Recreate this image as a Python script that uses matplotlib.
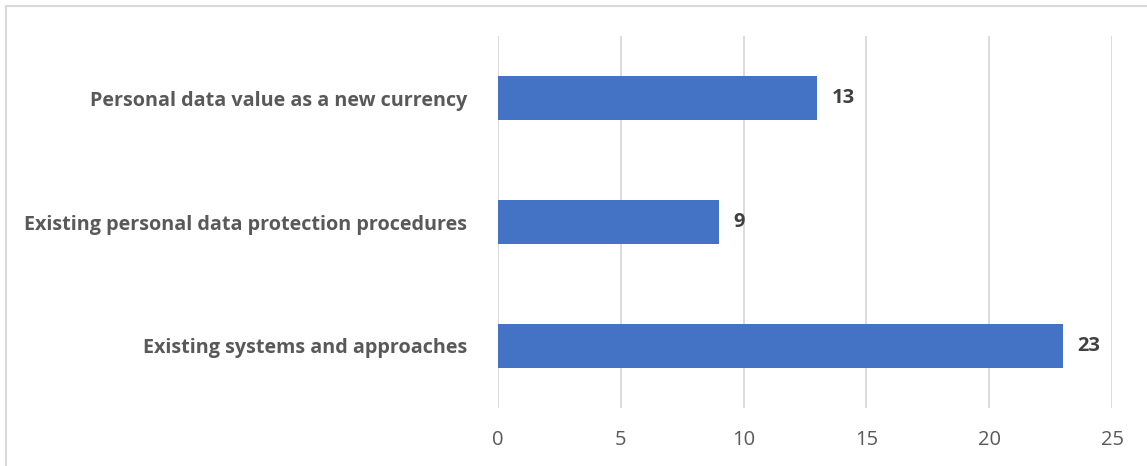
import matplotlib

matplotlib.use("Agg")
import matplotlib.pyplot as plt
from matplotlib.lines import Line2D

categories = [
    "Existing systems and approaches",
    "Existing personal data protection procedures",
    "Personal data value as a new currency",
]
values = [23, 9, 13]
x_ticks = [0, 5, 10, 15, 20, 25]

BAR_COLOR = "#4472C4"
GRID_COLOR = "#D9D9D9"
TEXT_COLOR = "#595959"

plt.rcParams["font.family"] = ["Open Sans", "DejaVu Sans"]

fig = plt.figure(figsize=(11.47, 4.66), dpi=100)
ax = fig.add_axes([0.4342, 0.1245, 0.5353, 0.7982])

positions = range(len(categories))
ax.barh(positions, values, height=0.35, color=BAR_COLOR, zorder=3)

for pos, val in zip(positions, values):
    ax.text(val + 0.6, pos, str(val), va="center", ha="left",
            fontsize=14.5, fontweight="bold", color="#404040")

ax.set_xlim(0, 25)
ax.set_ylim(-0.5, len(categories) - 0.5)
ax.set_xticks(x_ticks)
ax.set_yticks(list(positions))
ax.set_yticklabels(categories, fontsize=14.2, fontweight="bold", color=TEXT_COLOR)
ax.tick_params(axis="y", length=0, pad=22)
ax.tick_params(axis="x", length=0, pad=16, labelsize=14.5, labelcolor=TEXT_COLOR)
ax.grid(axis="x", color=GRID_COLOR, linewidth=1.3, zorder=0)
for spine in ax.spines.values():
    spine.set_visible(False)

# chart area frame (top and left edges only fit in the canvas)
fig.add_artist(Line2D([0.0055, 1.0], [0.9865, 0.9865], color=GRID_COLOR, linewidth=1.5,
                      transform=fig.transFigure))
fig.add_artist(Line2D([0.0055, 0.0055], [0.0, 0.9865], color=GRID_COLOR, linewidth=1.5,
                      transform=fig.transFigure))

fig.savefig("out.png", dpi=100)
plt.close(fig)
